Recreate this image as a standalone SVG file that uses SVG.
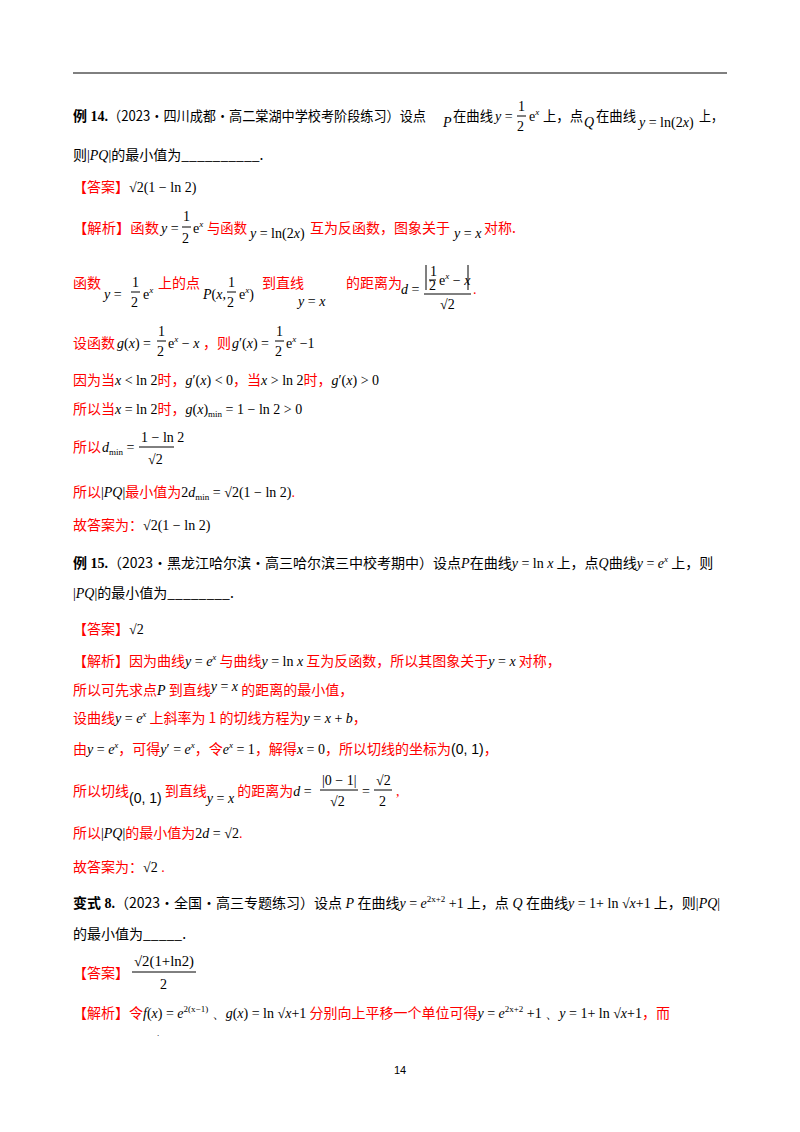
<svg xmlns="http://www.w3.org/2000/svg" width="800" height="1132" viewBox="0 0 800 1132">
<style>
text{font-family:"Liberation Serif","Noto Sans CJK SC",serif;font-size:14px;fill:#000}
.r{fill:#ff0000}
.c{font-family:"Noto Sans CJK SC",sans-serif}
.m{font-family:"Liberation Serif",serif;font-style:italic}
.n{font-family:"Liberation Serif",serif;font-style:normal}
.b{font-weight:bold}
.s{font-size:9px}
line{stroke:#000;stroke-width:1}
</style>
<rect width="800" height="1132" fill="#fff"/>
<line x1="73" y1="73" x2="727" y2="73" stroke-width="2"/>
<!-- Example 14 -->
<text x="73" y="121"><tspan class="b">例 14.</tspan><tspan class="c" textLength="318" lengthAdjust="spacingAndGlyphs">（2023·四川成都·高二棠湖中学校考阶段练习）设点</tspan></text>
<text x="443" y="127" class="m">P</text>
<text x="453" y="121" class="c" textLength="40" lengthAdjust="spacingAndGlyphs">在曲线</text>
<text x="495" y="121"><tspan class="m">y</tspan><tspan class="n"> = </tspan></text>
<text x="518" y="111" class="n">1</text><line x1="517" y1="116" x2="526" y2="116"/><text x="517" y="131" class="n">2</text>
<text x="529" y="121"><tspan class="n">e</tspan><tspan class="m s" dy="-6">x</tspan></text>
<text x="543" y="121" class="c" textLength="40" lengthAdjust="spacingAndGlyphs">上，点</text>
<text x="584" y="127" class="m">Q</text>
<text x="596" y="121" class="c" textLength="40" lengthAdjust="spacingAndGlyphs">在曲线</text>
<text x="639" y="127"><tspan class="m">y</tspan><tspan class="n"> = ln(2</tspan><tspan class="m">x</tspan><tspan class="n">)</tspan></text>
<text x="699" y="121" class="c" textLength="24" lengthAdjust="spacingAndGlyphs">上，</text>
<text x="73" y="160"><tspan class="c">则</tspan><tspan class="n">|</tspan><tspan class="m">PQ</tspan><tspan class="n">|</tspan><tspan class="c">的最小值为__________.</tspan></text>
<text x="73" y="192"><tspan class="c r">【答案】</tspan><tspan class="n">√2(1 − ln 2)</tspan></text>
<text x="73" y="233" class="c r" textLength="86" lengthAdjust="spacingAndGlyphs">【解析】函数</text>
<text x="161" y="233"><tspan class="m">y</tspan><tspan class="n"> = </tspan></text>
<text x="183" y="221" class="n">1</text><line x1="182" y1="227" x2="191" y2="227"/><text x="182" y="243" class="n">2</text>
<text x="193" y="233"><tspan class="n">e</tspan><tspan class="m s" dy="-6">x</tspan></text>
<text x="207" y="233" class="c r" textLength="40" lengthAdjust="spacingAndGlyphs">与函数</text>
<text x="250" y="238"><tspan class="m">y</tspan><tspan class="n"> = ln(2</tspan><tspan class="m">x</tspan><tspan class="n">)</tspan></text>
<text x="310" y="233" class="c r" textLength="140" lengthAdjust="spacingAndGlyphs">互为反函数，图象关于</text>
<text x="454" y="238"><tspan class="m">y</tspan><tspan class="n"> = </tspan><tspan class="m">x</tspan></text>
<text x="484" y="233" class="c r">对称.</text>
<text x="73" y="288" class="c r">函数</text>
<text x="104" y="299"><tspan class="m">y</tspan><tspan class="n"> = </tspan></text>
<text x="132" y="287" class="n">1</text><line x1="131" y1="292" x2="140" y2="292"/><text x="131" y="307" class="n">2</text>
<text x="143" y="299"><tspan class="n">e</tspan><tspan class="m s" dy="-6">x</tspan></text>
<text x="158" y="288" class="c r">上的点</text>
<text x="203" y="299"><tspan class="m">P</tspan><tspan class="n">(</tspan><tspan class="m">x</tspan><tspan class="n">,</tspan></text>
<text x="228" y="287" class="n">1</text><line x1="227" y1="292" x2="236" y2="292"/><text x="227" y="307" class="n">2</text>
<text x="239" y="299"><tspan class="n">e</tspan><tspan class="m s" dy="-6">x</tspan><tspan class="n" dy="6">)</tspan></text>
<text x="262" y="288" class="c r">到直线</text>
<text x="298" y="306"><tspan class="m">y</tspan><tspan class="n"> = </tspan><tspan class="m">x</tspan></text>
<text x="346" y="288" class="c r">的距离为</text>
<text x="401" y="294"><tspan class="m">d</tspan><tspan class="n"> = </tspan></text>
<line x1="426" y1="265" x2="426" y2="290"/><line x1="468" y1="265" x2="468" y2="290"/>
<text x="430" y="276" class="n">1</text><line x1="429" y1="280" x2="436" y2="280"/><text x="429" y="290" class="n">2</text>
<text x="439" y="285"><tspan class="n">e</tspan><tspan class="m s" dy="-6">x</tspan><tspan class="n" dy="6"> − </tspan><tspan class="m">x</tspan></text>
<line x1="424" y1="294" x2="471" y2="294"/>
<text x="440" y="309" class="n">√2</text><text x="473" y="294" class="r">.</text>
<text x="73" y="348" class="c r">设函数</text>
<text x="117" y="348"><tspan class="m">g</tspan><tspan class="n">(</tspan><tspan class="m">x</tspan><tspan class="n">) = </tspan></text>
<text x="158" y="336" class="n">1</text><line x1="157" y1="341" x2="166" y2="341"/><text x="157" y="356" class="n">2</text>
<text x="168" y="348"><tspan class="n">e</tspan><tspan class="m s" dy="-6">x</tspan><tspan class="n" dy="6"> − </tspan><tspan class="m">x</tspan></text>
<text x="203" y="348" class="c r">，则</text>
<text x="232" y="348"><tspan class="m">g</tspan><tspan class="n">′(</tspan><tspan class="m">x</tspan><tspan class="n">) = </tspan></text>
<text x="276" y="336" class="n">1</text><line x1="275" y1="341" x2="284" y2="341"/><text x="275" y="356" class="n">2</text>
<text x="286" y="348"><tspan class="n">e</tspan><tspan class="m s" dy="-6">x</tspan><tspan class="n" dy="6"> −1</tspan></text>
<text x="73" y="385"><tspan class="c r">因为当</tspan><tspan class="m">x</tspan><tspan class="n"> &lt; ln 2</tspan><tspan class="c r">时，</tspan><tspan class="m">g</tspan><tspan class="n">′(</tspan><tspan class="m">x</tspan><tspan class="n">) &lt; 0</tspan><tspan class="c r">，当</tspan><tspan class="m">x</tspan><tspan class="n"> &gt; ln 2</tspan><tspan class="c r">时，</tspan><tspan class="m">g</tspan><tspan class="n">′(</tspan><tspan class="m">x</tspan><tspan class="n">) &gt; 0</tspan></text>
<text x="73" y="414"><tspan class="c r">所以当</tspan><tspan class="m">x</tspan><tspan class="n"> = ln 2</tspan><tspan class="c r">时，</tspan><tspan class="m">g</tspan><tspan class="n">(</tspan><tspan class="m">x</tspan><tspan class="n">)</tspan><tspan class="n s" dy="3">min</tspan><tspan class="n" dy="-3"> = 1 − ln 2 &gt; 0</tspan></text>
<text x="73" y="452" class="c r">所以</text>
<text x="102" y="452"><tspan class="m">d</tspan><tspan class="n s" dy="3">min</tspan><tspan class="n" dy="-3"> =</tspan></text>
<text x="141" y="442" class="n">1 − ln 2</text><line x1="139" y1="447" x2="174" y2="447"/><text x="148" y="464" class="n">√2</text>
<text x="73" y="497"><tspan class="c r">所以</tspan><tspan class="n">|</tspan><tspan class="m">PQ</tspan><tspan class="n">|</tspan><tspan class="c r">最小值为</tspan><tspan class="n">2</tspan><tspan class="m">d</tspan><tspan class="n s" dy="3">min</tspan><tspan class="n" dy="-3"> = √2(1 − ln 2)</tspan><tspan class="r">.</tspan></text>
<text x="73" y="530"><tspan class="c r">故答案为：</tspan><tspan class="n">√2(1 − ln 2)</tspan></text>
<!-- Example 15 -->
<text x="73" y="568"><tspan class="b">例 15.</tspan><tspan class="c">（2023·黑龙江哈尔滨·高三哈尔滨三中校考期中）设点</tspan><tspan class="m">P</tspan><tspan class="c">在曲线</tspan><tspan class="m">y</tspan><tspan class="n"> = ln </tspan><tspan class="m">x</tspan><tspan class="c"> 上，点</tspan><tspan class="m">Q</tspan><tspan class="c">曲线</tspan><tspan class="m">y</tspan><tspan class="n"> = </tspan><tspan class="m">e</tspan><tspan class="m s" dy="-6">x</tspan><tspan class="c" dy="6"> 上，则</tspan></text>
<text x="73" y="598"><tspan class="n">|</tspan><tspan class="m">PQ</tspan><tspan class="n">|</tspan><tspan class="c">的最小值为________.</tspan></text>
<text x="73" y="634"><tspan class="c r">【答案】</tspan><tspan class="n">√2</tspan></text>
<text x="73" y="666"><tspan class="c r">【解析】因为曲线</tspan><tspan class="m">y</tspan><tspan class="n"> = </tspan><tspan class="m">e</tspan><tspan class="m s" dy="-6">x</tspan><tspan class="c r" dy="6"> 与曲线</tspan><tspan class="m">y</tspan><tspan class="n"> = ln </tspan><tspan class="m">x</tspan><tspan class="c r"> 互为反函数，所以其图象关于</tspan><tspan class="m">y</tspan><tspan class="n"> = </tspan><tspan class="m">x</tspan><tspan class="c r"> 对称，</tspan></text>
<text x="73" y="695"><tspan class="c r">所以可先求点</tspan><tspan class="m">P</tspan><tspan class="c r"> 到直线</tspan><tspan class="m" dy="-4">y</tspan><tspan class="n"> = </tspan><tspan class="m">x</tspan><tspan class="c r" dy="4"> 的距离的最小值，</tspan></text>
<text x="73" y="723"><tspan class="c r">设曲线</tspan><tspan class="m">y</tspan><tspan class="n"> = </tspan><tspan class="m">e</tspan><tspan class="m s" dy="-6">x</tspan><tspan class="c r" dy="6"> 上斜率为 1 的切线方程为</tspan><tspan class="m">y</tspan><tspan class="n"> = </tspan><tspan class="m">x</tspan><tspan class="n"> + </tspan><tspan class="m">b</tspan><tspan class="c r">，</tspan></text>
<text x="73" y="754"><tspan class="c r">由</tspan><tspan class="m">y</tspan><tspan class="n"> = </tspan><tspan class="m">e</tspan><tspan class="m s" dy="-6">x</tspan><tspan class="c r" dy="6">，可得</tspan><tspan class="m">y</tspan><tspan class="n">′ = </tspan><tspan class="m">e</tspan><tspan class="m s" dy="-6">x</tspan><tspan class="c r" dy="6">，令</tspan><tspan class="m">e</tspan><tspan class="m s" dy="-6">x</tspan><tspan class="n" dy="6"> = 1</tspan><tspan class="c r">，解得</tspan><tspan class="m">x</tspan><tspan class="n"> = 0</tspan><tspan class="c r">，所以切线的坐标为</tspan><tspan style="font-family:'Liberation Sans',sans-serif">(0, 1)</tspan><tspan class="c r">，</tspan></text>
<text x="73" y="796"><tspan class="c r">所以切线</tspan><tspan style="font-family:'Liberation Sans',sans-serif" dy="7">(0, 1)</tspan><tspan class="c r" dy="-7"> 到直线</tspan><tspan class="m" dy="7">y</tspan><tspan class="n"> = </tspan><tspan class="m">x</tspan><tspan class="c r" dy="-7"> 的距离为</tspan><tspan class="m">d</tspan><tspan class="n"> = </tspan></text>
<text x="322" y="785" class="n">|0 − 1|</text><line x1="320" y1="790" x2="358" y2="790"/><text x="330" y="806" class="n">√2</text>
<text x="362" y="796" class="n">= </text>
<text x="376" y="785" class="n">√2</text><line x1="374" y1="790" x2="392" y2="790"/><text x="379" y="806" class="n">2</text>
<text x="396" y="796" class="r">,</text>
<text x="73" y="838"><tspan class="c r">所以</tspan><tspan class="n">|</tspan><tspan class="m">PQ</tspan><tspan class="n">|</tspan><tspan class="c r">的最小值为</tspan><tspan class="n">2</tspan><tspan class="m">d</tspan><tspan class="n"> = √2</tspan><tspan class="r">.</tspan></text>
<text x="73" y="872"><tspan class="c r">故答案为：</tspan><tspan class="n">√2</tspan><tspan class="r"> .</tspan></text>
<!-- Variant 8 -->
<text x="73" y="908"><tspan class="b">变式 8.</tspan><tspan class="c">（2023·全国·高三专题练习）设点</tspan><tspan class="m"> P </tspan><tspan class="c">在曲线</tspan><tspan class="m">y</tspan><tspan class="n"> = </tspan><tspan class="m">e</tspan><tspan class="n s" dy="-6">2x+2</tspan><tspan class="n" dy="6"> +1</tspan><tspan class="c"> 上，点</tspan><tspan class="m"> Q </tspan><tspan class="c">在曲线</tspan><tspan class="m">y</tspan><tspan class="n"> = 1+ ln √</tspan><tspan class="m">x</tspan><tspan class="n">+1</tspan><tspan class="c"> 上，则</tspan><tspan class="n">|</tspan><tspan class="m">PQ</tspan><tspan class="n">|</tspan></text>
<text x="73" y="939"><tspan class="c">的最小值为_____.</tspan></text>
<text x="73" y="978"><tspan class="c r">【答案】</tspan></text>
<text x="134" y="966" class="n" textLength="60" lengthAdjust="spacingAndGlyphs">√2(1+ln2)</text><line x1="132" y1="972" x2="196" y2="972"/><text x="160" y="989" class="n">2</text>
<text x="73" y="1018"><tspan class="c r">【解析】令</tspan><tspan class="m">f</tspan><tspan class="n">(</tspan><tspan class="m">x</tspan><tspan class="n">) = </tspan><tspan class="m">e</tspan><tspan class="n s" dy="-6">2(x−1)</tspan><tspan class="n" dy="6"> 、</tspan><tspan class="m">g</tspan><tspan class="n">(</tspan><tspan class="m">x</tspan><tspan class="n">) = ln √</tspan><tspan class="m">x</tspan><tspan class="n">+1</tspan><tspan class="c r"> 分别向上平移一个单位可得</tspan><tspan class="m">y</tspan><tspan class="n"> = </tspan><tspan class="m">e</tspan><tspan class="n s" dy="-6">2x+2</tspan><tspan class="n" dy="6"> +1 、</tspan><tspan class="m">y</tspan><tspan class="n"> = 1+ ln √</tspan><tspan class="m">x</tspan><tspan class="n">+1</tspan><tspan class="c r">，而</tspan></text>
<text x="157" y="1036" class="n s">.</text>
<text x="400" y="1074" text-anchor="middle" style="font-family:'Liberation Sans',sans-serif;font-size:11px">14</text>
</svg>
